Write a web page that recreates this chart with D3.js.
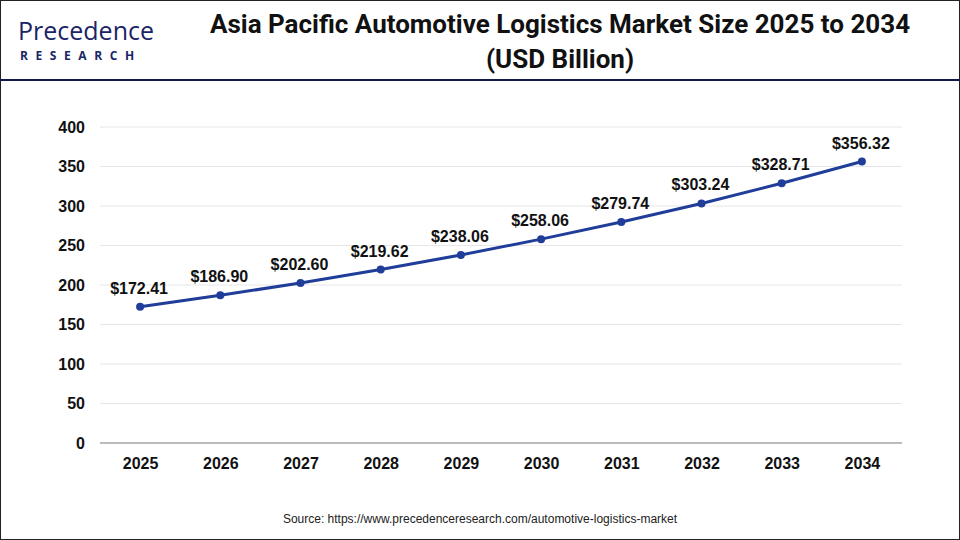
<!DOCTYPE html>
<html><head><meta charset="utf-8">
<script src="https://cdn.jsdelivr.net/npm/d3@7"></script>
<style>body{margin:0;background:#fff}</style>
</head><body><div id="chart"></div>
<script>
const years = ["2025","2026","2027","2028","2029","2030","2031","2032","2033","2034"];
const values = [172.41,186.90,202.60,219.62,238.06,258.06,279.74,303.24,328.71,356.32];
const yTicks = [0,50,100,150,200,250,300,350,400];

const svg = d3.select("#chart").append("svg").attr("width",960).attr("height",540);
svg.append("rect").attr("x",0.5).attr("y",0.5).attr("width",959).attr("height",539)
  .attr("fill","#fff").attr("stroke","#222");
svg.append("line").attr("x1",0).attr("x2",960).attr("y1",80).attr("y2",80)
  .attr("stroke","#0f1a45").attr("stroke-width",2);

// logo
const logo = svg.append("g").attr("font-family","'Open Sans', sans-serif");
logo.append("text").attr("x",18).attr("y",40).attr("font-size",25).attr("font-weight",500)
  .attr("fill","#1a2466").text("Precedence");
logo.append("text").attr("x",20).attr("y",60).attr("font-size",12).attr("font-weight",700)
  .attr("letter-spacing",7.6).attr("fill","#1a2466").text("RESEARCH");

const title = svg.append("g").attr("font-family","Roboto, sans-serif").attr("font-weight",700)
  .attr("font-size",26).attr("fill","#111").attr("text-anchor","middle");
title.append("text").attr("x",560).attr("y",33).text("Asia Pacific Automotive Logistics Market Size 2025 to 2034");
title.append("text").attr("x",560).attr("y",68).text("(USD Billion)");

const x = d3.scalePoint().domain(years).range([100,902]).padding(0.5);
const y = d3.scaleLinear().domain([0,400]).range([443,127]);
const font = "'Liberation Sans', Arial, sans-serif";

svg.append("g").selectAll("line").data(yTicks.slice(1)).join("line")
  .attr("x1",100).attr("x2",902).attr("y1",d=>y(d)).attr("y2",d=>y(d))
  .attr("stroke","#e6e6e6");
svg.append("line").attr("x1",100).attr("x2",902).attr("y1",y(0)).attr("y2",y(0))
  .attr("stroke","#bbb").attr("stroke-width",2);

const ya = svg.append("g").attr("transform","translate(88,0)")
  .call(d3.axisLeft(y).tickValues(yTicks).tickSize(0));
ya.select(".domain").remove();
ya.selectAll("text").attr("font-family",font).attr("font-weight",700).attr("font-size",16).attr("fill","#111");

const xa = svg.append("g").attr("transform","translate(0,455)")
  .call(d3.axisBottom(x).tickSize(0));
xa.select(".domain").remove();
xa.selectAll("text").attr("font-family",font).attr("font-weight",700).attr("font-size",16).attr("fill","#111");

svg.append("path").datum(values)
  .attr("d",d3.line().x((d,i)=>x(years[i])).y(d=>y(d)))
  .attr("fill","none").attr("stroke","#1f3d99").attr("stroke-width",3);
svg.append("g").selectAll("circle").data(values).join("circle")
  .attr("cx",(d,i)=>x(years[i])).attr("cy",d=>y(d)).attr("r",4).attr("fill","#1f3d99");
svg.append("g").selectAll("text").data(values).join("text")
  .attr("x",(d,i)=>x(years[i])-1).attr("y",d=>y(d)-13).attr("text-anchor","middle")
  .attr("font-family",font).attr("font-weight",700).attr("font-size",16).attr("fill","#111")
  .text(d=>"$"+d.toFixed(2));

svg.append("text").attr("x",480).attr("y",523).attr("text-anchor","middle")
  .attr("font-family",font).attr("font-size",12).attr("fill","#222")
  .text("Source: https://www.precedenceresearch.com/automotive-logistics-market");
</script></body></html>
